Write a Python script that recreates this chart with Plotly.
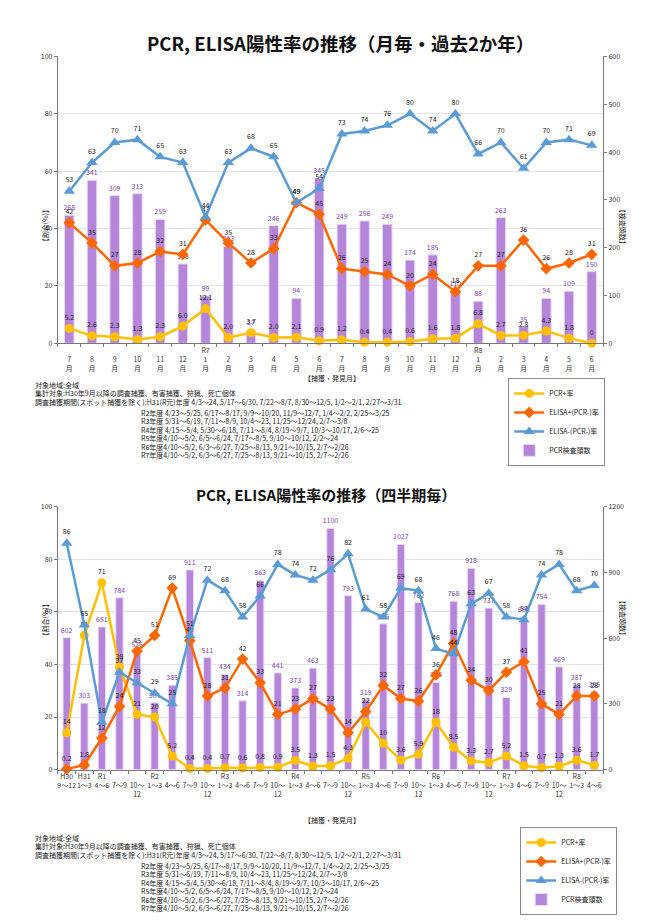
import plotly.graph_objects as go

FONT = "Noto Sans CJK JP"
W, H = 650, 922

# ---------------- Top chart (monthly, last 2 years) ----------------
m_era = ["", "", "", "", "", "", "R7", "", "", "", "", "", "", "", "", "", "", "", "R8", "", "", "", "", ""]
m_months = ["7", "8", "9", "10", "11", "12", "1", "2", "3", "4", "5", "6",
            "7", "8", "9", "10", "11", "12", "1", "2", "3", "4", "5", "6"]
m_pcr_pos = [5.2, 2.6, 2.3, 1.3, 2.3, 6.0, 12.1, 2.0, 3.7, 2.0, 2.1, 0.9,
             1.2, 0.4, 0.4, 0.6, 1.6, 1.8, 6.8, 2.7, 2.8, 4.3, 1.8, 0]
m_elisa_pos = [42, 35, 27, 28, 32, 31, 43, 35, 28, 33, 49, 45,
               26, 25, 24, 20, 24, 18, 27, 27, 36, 26, 28, 31]
m_elisa_neg = [53, 63, 70, 71, 65, 63, 44, 63, 68, 65, 49, 54,
               73, 74, 76, 80, 74, 80, 66, 70, 61, 70, 71, 69]
m_pcr_n = [268, 341, 309, 313, 259, 166, 99, 203, 27, 246, 94, 345,
           249, 256, 249, 174, 185, 110, 88, 263, 35, 94, 109, 150]

# ---------------- Bottom chart (quarterly) ----------------
q_era = ["H30", "H31", "R1", "", "", "R2", "", "", "", "R3", "", "", "", "R4", "", "", "",
         "R5", "", "", "", "R6", "", "", "", "R7", "", "", "", "R8", ""]
q_period = ["9～12", "1～3", "4～6", "7～9", "10～<br>12",
            "1～3", "4～6", "7～9", "10～<br>12",
            "1～3", "4～6", "7～9", "10～<br>12",
            "1～3", "4～6", "7～9", "10～<br>12",
            "1～3", "4～6", "7～9", "10～<br>12",
            "1～3", "4～6", "7～9", "10～<br>12",
            "1～3", "4～6", "7～9", "10～<br>12",
            "1～3", "4～6"]
q_pcr_pos = [14, 51, 71, 39, 21, 20, 5.2, 0.4, 0.4, 0.7, 0.6, 0.8, 0.9, 3.5, 1.3, 1.5, 4.3,
             18, 10, 3.6, 5.9, 18, 8.5, 3.3, 2.7, 5.2, 1.5, 0.7, 1.3, 3.6, 1.7]
q_elisa_pos = [0.2, 1.8, 12, 24, 45, 51, 69, 49, 28, 31, 42, 33, 21, 23, 27, 23, 14,
               22, 32, 27, 26, 36, 48, 34, 30, 37, 41, 25, 21, 28, 28]
q_elisa_neg = [86, 55, 18, 37, 33, 29, 25, 51, 72, 68, 58, 66, 78, 74, 72, 76, 82,
               61, 58, 69, 68, 46, 44, 63, 67, 58, 57, 74, 78, 68, 70]
q_pcr_n = [602, 303, 651, 784, 536, 305, 385, 911, 511, 434, 314, 863, 441, 373, 463, 1100, 793,
           319, 665, 1027, 762, 398, 768, 918, 737, 329, 696, 754, 469, 387, 355]

notes = [
    "対象地域:全域",
    "集計対象:H30年9月以降の調査捕獲、有害捕獲、狩猟、死亡個体",
    "調査捕獲期間(スポット捕獲を除く):H31(R元)年度 4/3～24, 5/17～6/30, 7/22～8/7, 8/30～12/5, 1/2～2/1, 2/27～3/31",
    "R2年度 4/23～5/25, 6/17～8/17, 9/9～10/20, 11/9～12/7, 1/4～2/2, 2/25～3/25",
    "R3年度 5/31～6/19, 7/11～8/9, 10/4～23, 11/25～12/24, 2/7～3/8",
    "R4年度 4/15～5/4, 5/30～6/18, 7/11～8/4, 8/19～9/7, 10/3～10/17, 2/6～25",
    "R5年度4/10～5/2, 6/5～6/24, 7/17～8/5, 9/10～10/12, 2/2～24",
    "R6年度4/10～5/2, 6/3～6/27, 7/25～8/13, 9/21～10/15, 2/7～2/26",
    "R7年度4/10～5/2, 6/3～6/27, 7/25～8/13, 9/21～10/15, 2/7～2/26",
]

C_YEL = "#FFC000"
C_ORA = "#FF6600"
C_BLU = "#5B9BD5"
C_BAR = "#B585DA"
C_BAR_EDGE = "#E8DAF4"
C_BAR_TXT = "#7A3FB0"
C_TXT = "#222222"


def py(p):
    return 1 - p / H


def px(p):
    return p / W


def fmt_top(v):
    return "0" if v == 0 else f"{v:.1f}"


def fmt_q(v):
    return f"{v:.0f}" if v >= 10 else f"{v:.1f}"


fig = go.Figure()


def add_chart(xcats, pcr_pos, elisa_pos, elisa_neg, pcr_n, xa, ya_n, ya_r, legend, fmt):
    fig.add_trace(go.Bar(
        x=xcats, y=pcr_n, xaxis=xa, yaxis=ya_n, name="PCR検査頭数",
        marker=dict(color=C_BAR, line=dict(color=C_BAR_EDGE, width=1)),
        width=0.42, text=[str(v) for v in pcr_n], textposition="outside",
        textfont=dict(size=7, color=C_BAR_TXT, family=FONT), constraintext="none",
        cliponaxis=False, legend=legend, legendrank=4, hoverinfo="skip"))
    series = [
        ("PCR+率", pcr_pos, C_YEL, "circle", 9, [fmt(v) for v in pcr_pos], 1),
        ("ELISA+(PCR-)率", elisa_pos, C_ORA, "diamond", 9,
         [f"{v:g}" if v < 10 else f"{v:.0f}" for v in elisa_pos], 2),
        ("ELISA-(PCR-)率", elisa_neg, C_BLU, "triangle-up", 10, [f"{v:.0f}" for v in elisa_neg], 3),
    ]
    for name, vals, col, sym, size, txt, rank in series:
        fig.add_trace(go.Scatter(
            x=xcats, y=vals, xaxis=xa, yaxis=ya_r, name=name,
            mode="lines+markers+text",
            line=dict(color=col, width=2.5),
            marker=dict(color=col, symbol=sym, size=size),
            text=txt, textposition="top center",
            textfont=dict(size=7, color=C_TXT, family=FONT),
            cliponaxis=False, legend=legend, legendrank=rank, hoverinfo="skip"))


top_x = [f"m{i}" for i in range(len(m_months))]
q_x = [f"q{i}" for i in range(len(q_period))]

add_chart(top_x, m_pcr_pos, m_elisa_pos, m_elisa_neg, m_pcr_n, "x", "y", "y2", "legend", fmt_top)
add_chart(q_x, q_pcr_pos, q_elisa_pos, q_elisa_neg, q_pcr_n, "x2", "y3", "y4", "legend2", fmt_q)

top_ticks = [f"{e}<br>{m}<br>月" for e, m in zip(m_era, m_months)]
q_ticks = [f"{e}<br>{p}" for e, p in zip(q_era, q_period)]

XD = [px(57), px(603)]
TOP_D = [py(341), py(51)]
BOT_D = [py(772), py(506)]

tickfont = dict(size=7, color="#333", family=FONT)
axline = dict(showline=True, linecolor="#777", linewidth=1, ticks="outside",
              ticklen=3, tickcolor="#777", tickfont=tickfont)

fig.update_layout(
    width=W, height=H, margin=dict(l=0, r=0, t=0, b=0),
    paper_bgcolor="white", plot_bgcolor="white",
    font=dict(family=FONT, size=7, color="#222"),
    bargap=0.5,
    xaxis=dict(domain=XD, anchor="y", type="category", categoryorder="array",
               categoryarray=top_x, tickvals=top_x, ticktext=top_ticks, tickangle=0,
               tickson="boundaries", range=[-0.5, len(top_x) - 0.5], **axline),
    yaxis=dict(domain=TOP_D, anchor="x", side="right", range=[0, 600], dtick=100,
               showgrid=False, zeroline=False, **axline),
    yaxis2=dict(overlaying="y", anchor="x", side="left", range=[0, 100], dtick=20,
                showgrid=True, gridcolor="#E3E3E3", gridwidth=1, zeroline=False, **axline),
    xaxis2=dict(domain=XD, anchor="y3", type="category", categoryorder="array",
                categoryarray=q_x, tickvals=q_x, ticktext=q_ticks, tickangle=0,
                tickson="boundaries", range=[-0.5, len(q_x) - 0.5], **axline),
    yaxis3=dict(domain=BOT_D, anchor="x2", side="right", range=[0, 1200], dtick=300,
                showgrid=False, zeroline=False, **axline),
    yaxis4=dict(overlaying="y3", anchor="x2", side="left", range=[0, 100], dtick=20,
                showgrid=True, gridcolor="#E3E3E3", gridwidth=1, zeroline=False, **axline),
    legend=dict(x=px(508), y=py(376), xanchor="left", yanchor="top",
                bordercolor="#888", borderwidth=1, bgcolor="white",
                font=dict(size=7, family=FONT, color="#222"),
                itemwidth=30, tracegroupgap=0),
    legend2=dict(x=px(520), y=py(830), xanchor="left", yanchor="top",
                 bordercolor="#888", borderwidth=1, bgcolor="white",
                 font=dict(size=7, family=FONT, color="#222"),
                 itemwidth=30, tracegroupgap=0),
    showlegend=True,
)

ann = []
# titles
ann.append(dict(text="<b>PCR, ELISA陽性率の推移（月毎・過去2か年）</b>", x=px(340), y=py(37),
                xref="paper", yref="paper", showarrow=False,
                font=dict(size=18.5, family=FONT, color="#111"), xanchor="center", yanchor="middle"))
ann.append(dict(text="<b>PCR, ELISA陽性率の推移（四半期毎）</b>", x=px(326), y=py(494),
                xref="paper", yref="paper", showarrow=False,
                font=dict(size=15, family=FONT, color="#111"), xanchor="center", yanchor="middle"))
# axis titles
for yc_l, yc_r, xt in [(200, 200, 376), (642, 642, 830)]:
    ann.append(dict(text="【割合(%)】", x=px(37), y=py(yc_l), xref="paper", yref="paper",
                    showarrow=False, textangle=-90, font=dict(size=7, family=FONT, color="#222")))
    ann.append(dict(text="【検査頭数】", x=px(630), y=py(yc_r), xref="paper", yref="paper",
                    showarrow=False, textangle=90, font=dict(size=7, family=FONT, color="#222")))
    ann.append(dict(text="【捕獲・発見月】", x=px(332), y=py(xt), xref="paper", yref="paper",
                    showarrow=False, font=dict(size=7, family=FONT, color="#222")))
# notes
for y0 in [383, 841]:
    ys = [y0, y0 + 8.6, y0 + 17.2, y0 + 28, y0 + 36.6, y0 + 45.2, y0 + 53.8, y0 + 62.4, y0 + 71]
    for i, (t, yy) in enumerate(zip(notes, ys)):
        ann.append(dict(text=t, x=px(32 if i < 3 else 138), y=py(yy), xref="paper", yref="paper",
                        showarrow=False, xanchor="left", yanchor="middle",
                        font=dict(size=7, family=FONT, color="#222")))
fig.update_layout(annotations=ann)

fig.write_html("out.html")
